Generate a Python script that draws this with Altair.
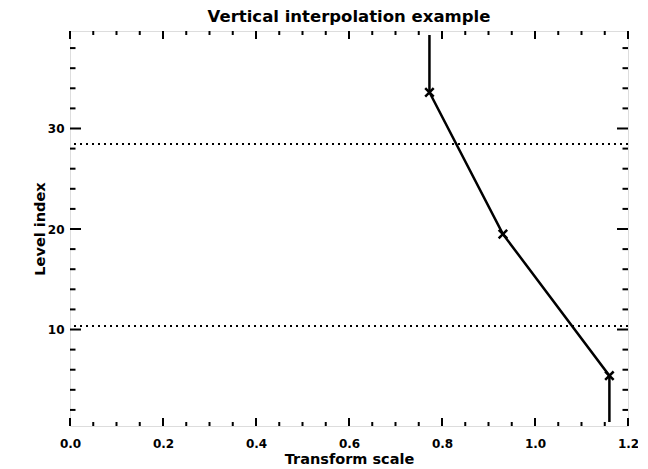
import altair as alt
import pandas as pd
import numpy as np

# ---- data ----
line_x = [0.773, 0.773, 0.931, 1.160, 1.160]
line_y = [39.3, 33.6, 19.5, 5.4, 0.8]
marker_x = [0.773, 0.931, 1.160]
marker_y = [33.6, 19.5, 5.4]
dotted_y = [28.45, 10.35]

x_major = [0.0, 0.2, 0.4, 0.6, 0.8, 1.0, 1.2]
x_minor = [0.05, 0.1, 0.15, 0.25, 0.3, 0.35, 0.45, 0.5, 0.55, 0.65, 0.7, 0.75,
           0.85, 0.9, 0.95, 1.05, 1.1, 1.15]
y_major = [10, 20, 30]
y_minor = [2, 4, 6, 8, 12, 14, 16, 18, 22, 24, 26, 28, 32, 34, 36, 38]

X_DOMAIN = [0.0, 1.2]
Y_DOMAIN = [0.4, 39.7]

W, H = 558, 395
FONT = "DejaVu Sans"

xs = alt.Scale(domain=X_DOMAIN, nice=False, zero=False)
ys = alt.Scale(domain=Y_DOMAIN, nice=False, zero=False)

line_df = pd.DataFrame({"x": line_x, "y": line_y, "i": list(range(len(line_x)))})
mark_df = pd.DataFrame({"x": marker_x, "y": marker_y})
dot_df = pd.DataFrame({"y": dotted_y})
xmaj_df = pd.DataFrame({"x": x_major})
xmin_df = pd.DataFrame({"x": x_minor})
ymaj_df = pd.DataFrame({"y": y_major})
ymin_df = pd.DataFrame({"y": y_minor})

xaxis = alt.Axis(values=x_major, format=".1f", ticks=False, tickSize=0, domain=False,
                 grid=False, labelFont=FONT, labelFontWeight="bold", labelFontSize=12,
                 labelColor="black", labelPadding=12, labelFlush=False,
                 title="Transform scale", titleFont=FONT, titleFontWeight="bold",
                 titleFontSize=14.5, titleColor="black", titleX=W / 2, titleY=33,
                 titleBaseline="middle", titleAnchor="middle")
yaxis = alt.Axis(values=y_major, format="d", ticks=False, tickSize=0, domain=False,
                 grid=False, labelFont=FONT, labelFontWeight="bold", labelFontSize=12,
                 labelColor="black", labelPadding=6,
                 title="Level index", titleFont=FONT, titleFontWeight="bold",
                 titleFontSize=14.5, titleColor="black", titleX=-30, titleY=H / 2,
                 titleAngle=270, titleBaseline="middle", titleAnchor="middle")

base_line = alt.Chart(line_df).mark_line(color="black", strokeWidth=2.5).encode(
    x=alt.X("x:Q", scale=xs, axis=xaxis),
    y=alt.Y("y:Q", scale=ys, axis=yaxis),
    order="i:Q",
)

markers = alt.Chart(mark_df).mark_point(
    shape="M-1,-1L1,1M-1,1L1,-1", filled=False, color="black", strokeWidth=2.5, size=72, opacity=1
).encode(x=alt.X("x:Q", scale=xs), y=alt.Y("y:Q", scale=ys))

dotted = alt.Chart(dot_df).mark_rule(color="black", strokeWidth=2, strokeDash=[2, 4]).encode(
    y=alt.Y("y:Q", scale=ys)
)

def xticks(df, length):
    bot = alt.Chart(df).mark_rule(color="black", strokeWidth=2).encode(
        x=alt.X("x:Q", scale=xs), y=alt.value(H), y2=alt.value(H - length))
    top = alt.Chart(df).mark_rule(color="black", strokeWidth=2).encode(
        x=alt.X("x:Q", scale=xs), y=alt.value(0), y2=alt.value(length))
    return bot + top

def yticks(df, length):
    left = alt.Chart(df).mark_rule(color="black", strokeWidth=2).encode(
        y=alt.Y("y:Q", scale=ys), x=alt.value(0), x2=alt.value(length))
    right = alt.Chart(df).mark_rule(color="black", strokeWidth=2).encode(
        y=alt.Y("y:Q", scale=ys), x=alt.value(W), x2=alt.value(W - length))
    return left + right

chart = alt.layer(
    dotted, base_line, markers,
    xticks(xmaj_df, 8), xticks(xmin_df, 4),
    yticks(ymaj_df, 11), yticks(ymin_df, 5.5),
).properties(
    width=W, height=H,
    title=alt.TitleParams("Vertical interpolation example", font=FONT, fontWeight="bold",
                          fontSize=16.5, color="black", anchor="middle", baseline="middle",
                          offset=8, dy=11),
    autosize=alt.AutoSizeParams(type="none"),
    padding={"left": 62, "top": 23, "right": 10, "bottom": 50},
).configure_view(stroke="black", strokeWidth=2.5).configure(background="white")

chart.save("out.html", embed_options={"renderer": "svg", "actions": False})
